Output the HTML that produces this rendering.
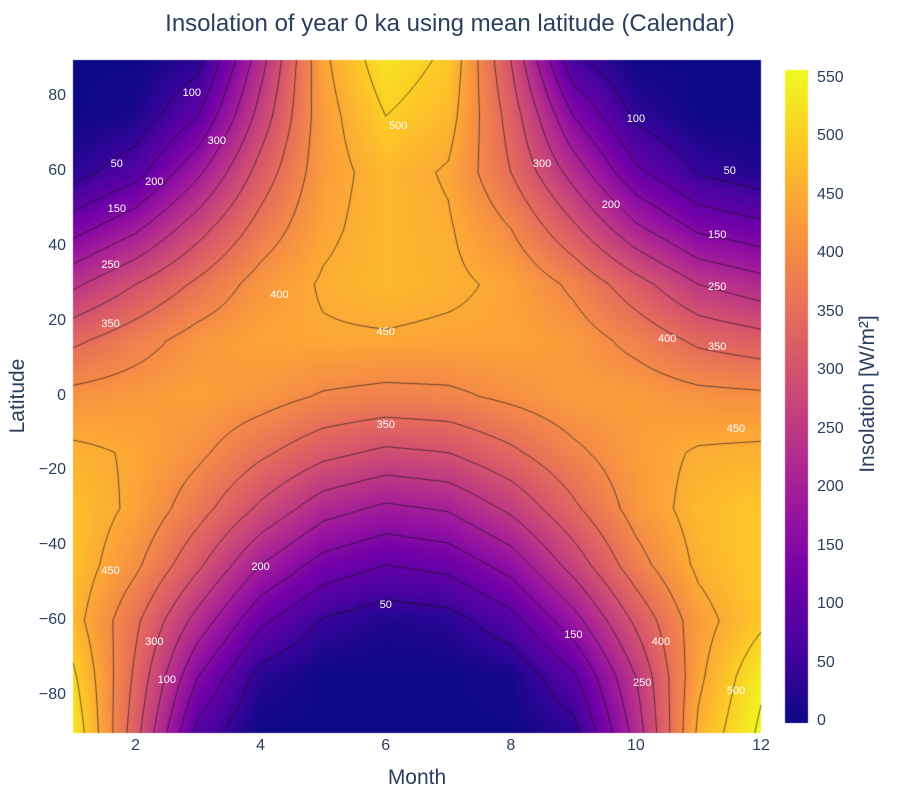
<!DOCTYPE html>
<html><head><meta charset="utf-8">
<style>
body{margin:0;background:#fff;font-family:"Liberation Sans",sans-serif;}
#wrap{position:relative;width:900px;height:800px;overflow:hidden;}
canvas{position:absolute;left:0;top:0;}
.t{position:absolute;color:#2a3f5f;white-space:nowrap;}
</style></head><body>
<div id="wrap">
<canvas id="cv" width="900" height="800"></canvas>
<div class="t" style="left:0;width:900px;text-align:center;top:10px;font-size:24px;">Insolation of year 0 ka using mean latitude (Calendar)</div>
<div class="t" style="left:73px;width:688px;text-align:center;top:766px;font-size:21px;">Month</div>
<div class="t" style="left:-32px;top:384px;width:100px;text-align:center;font-size:21px;transform:rotate(-90deg);">Latitude</div>
<div class="t" style="left:768px;top:382px;width:200px;text-align:center;font-size:21px;transform:rotate(-90deg);">Insolation [W/m²]</div>
<div id="labels"></div>
</div>
<script>
const months=[1,2,3,4,5,6,7,8,9,10,11,12];
const lats=[90,75,60,45,30,15,0,-15,-30,-45,-60,-75,-90];
const r90=[0,0,30,230,440,530,490,300,60,0,0,0];
const r75=[0,15,100,270,430,500,470,330,150,40,0,0];
const r60=[30,80,190,320,430,470,445,350,230,110,45,20];
const r45=[130,190,280,370,440,470,455,400,310,210,140,115];
const r30=[240,300,360,420,455,470,460,440,390,320,250,220];
const r15=[340,380,420,440,445,445,440,440,425,385,340,320];
const r0=[415,425,435,420,395,385,390,410,430,430,415,410];
const rs15=[460,445,410,360,315,290,300,340,390,430,455,460];
const rs30=[480,440,370,290,220,190,205,260,340,420,470,490];
const rs45=[480,410,310,200,130,100,115,170,270,380,460,495];
const rs60=[470,360,230,110,45,20,30,80,180,310,430,490];
const rs75=[510,340,150,30,0,0,0,10,90,250,440,540];
const rs90=[540,320,80,0,0,0,0,0,30,220,460,560];
const grid=[r90,r75,r60,r45,r30,r15,r0,rs15,rs30,rs45,rs60,rs75,rs90];
const levels=[50,100,150,200,250,300,350,400,450,500,550];
const xTicks=[2,4,6,8,10,12];
const yTicks=[80,60,40,20,0,-20,-40,-60,-80];
const cbTicks=[0,50,100,150,200,250,300,350,400,450,500,550];
const cLabels=[[1.7,62,"50"],[2.9,81,"100"],[1.7,50,"150"],[2.3,57,"200"],[1.6,35,"250"],[3.3,68,"300"],[1.6,19,"350"],[4.3,27,"400"],[6.2,72,"500"],[6.0,17,"450"],[10.0,74,"100"],[11.5,60,"50"],[8.5,62,"300"],[9.6,51,"200"],[11.3,43,"150"],[11.3,29,"250"],[10.5,15,"400"],[11.3,13,"350"],[11.6,-9,"450"],[6.0,-8,"350"],[4.0,-46,"200"],[6.0,-56,"50"],[9.0,-64,"150"],[10.4,-66,"400"],[10.1,-77,"250"],[11.6,-79,"500"],[1.6,-47,"450"],[2.3,-66,"300"],[2.5,-76,"100"]];
const X0=73,X1=761,Y0=60,Y1=733,ZMAX=557;
const xs=m=>X0+(m-1)/11*(X1-X0);
const ys=l=>Y0+(90-l)/180*(Y1-Y0);
const cbY=v=>722-v/550*643;
const stops=[[0,"#0d0887"],[.111,"#46039f"],[.222,"#7201a8"],[.333,"#9c179e"],[.444,"#bd3786"],[.556,"#d8576b"],[.667,"#ed7953"],[.778,"#fb9f3a"],[.889,"#fdca26"],[1,"#f0f921"]].map(s=>[s[0],parseInt(s[1].slice(1,3),16),parseInt(s[1].slice(3,5),16),parseInt(s[1].slice(5,7),16)]);
function col(v){let t=Math.max(0,Math.min(1,v/ZMAX));for(let i=1;i<stops.length;i++){if(t<=stops[i][0]){const a=stops[i-1],b=stops[i],f=(t-a[0])/(b[0]-a[0]);return[a[1]+f*(b[1]-a[1]),a[2]+f*(b[2]-a[2]),a[3]+f*(b[3]-a[3])];}}return stops[9].slice(1);}
function val(m,l){let fx=(m-1),fy=(90-l)/15;let i=Math.min(10,Math.max(0,Math.floor(fx))),j=Math.min(11,Math.max(0,Math.floor(fy)));let u=fx-i,w=fy-j;
return grid[j][i]*(1-u)*(1-w)+grid[j][i+1]*u*(1-w)+grid[j+1][i]*(1-u)*w+grid[j+1][i+1]*u*w;}
const cv=document.getElementById('cv'),c=cv.getContext('2d');
const img=c.createImageData(X1-X0,Y1-Y0);
for(let py=0;py<Y1-Y0;py++)for(let px=0;px<X1-X0;px++){const m=1+(px+.5)/(X1-X0)*11,l=90-(py+.5)/(Y1-Y0)*180;const k=col(val(m,l));const o=(py*(X1-X0)+px)*4;img.data[o]=k[0];img.data[o+1]=k[1];img.data[o+2]=k[2];img.data[o+3]=255;}
c.putImageData(img,X0,Y0);
const NX=220,NY=240;const F=[];
for(let j=0;j<=NY;j++){F[j]=[];for(let i=0;i<=NX;i++)F[j][i]=val(1+i/NX*11,90-j/NY*180);}
c.strokeStyle="rgba(20,15,25,0.8)";c.lineWidth=0.8;
const px=i=>X0+i/NX*(X1-X0),py=j=>Y0+j/NY*(Y1-Y0);
levels.forEach(L=>{c.beginPath();for(let j=0;j<NY;j++)for(let i=0;i<NX;i++){const a=F[j][i],b=F[j][i+1],d=F[j+1][i],e=F[j+1][i+1];const pts=[];
function ed(v1,v2,x1,y1,x2,y2){if((v1<L)!=(v2<L)){const t=(L-v1)/(v2-v1);pts.push([px(x1+t*(x2-x1)),py(y1+t*(y2-y1))]);}}
ed(a,b,i,j,i+1,j);ed(b,e,i+1,j,i+1,j+1);ed(e,d,i+1,j+1,i,j+1);ed(d,a,i,j+1,i,j);
for(let k=0;k+1<pts.length;k+=2){c.moveTo(pts[k][0],pts[k][1]);c.lineTo(pts[k+1][0],pts[k+1][1]);}}c.stroke();});
for(let y=70;y<=722;y++){const k=col((722-y)/643*550);c.fillStyle=`rgb(${k[0]|0},${k[1]|0},${k[2]|0})`;c.fillRect(785,y,23,1);}
const lab=document.getElementById('labels');
function addT(name,txt,style){const d=document.createElement('div');d.className='t';d.textContent=txt;d.style.cssText=style;


lab.appendChild(d);}
xTicks.forEach(v=>addT('x-tick-label',v,`left:${xs(v)-20}px;width:40px;text-align:center;top:737px;font-size:16px;`));
yTicks.forEach(v=>addT('y-tick-label',v<0?'\u2212'+(-v):v,`left:20px;width:46px;text-align:right;top:${ys(v)-10}px;font-size:16px;`));
cbTicks.forEach(v=>addT('colorbar-tick-label',v,`left:817px;top:${cbY(v)-10}px;font-size:16px;`));
cLabels.forEach(a=>addT('contour-label',a[2],`left:${xs(a[0])-15}px;width:30px;text-align:center;top:${ys(a[1])-7}px;font-size:11px;color:#fff;`));
</script>
</body></html>
